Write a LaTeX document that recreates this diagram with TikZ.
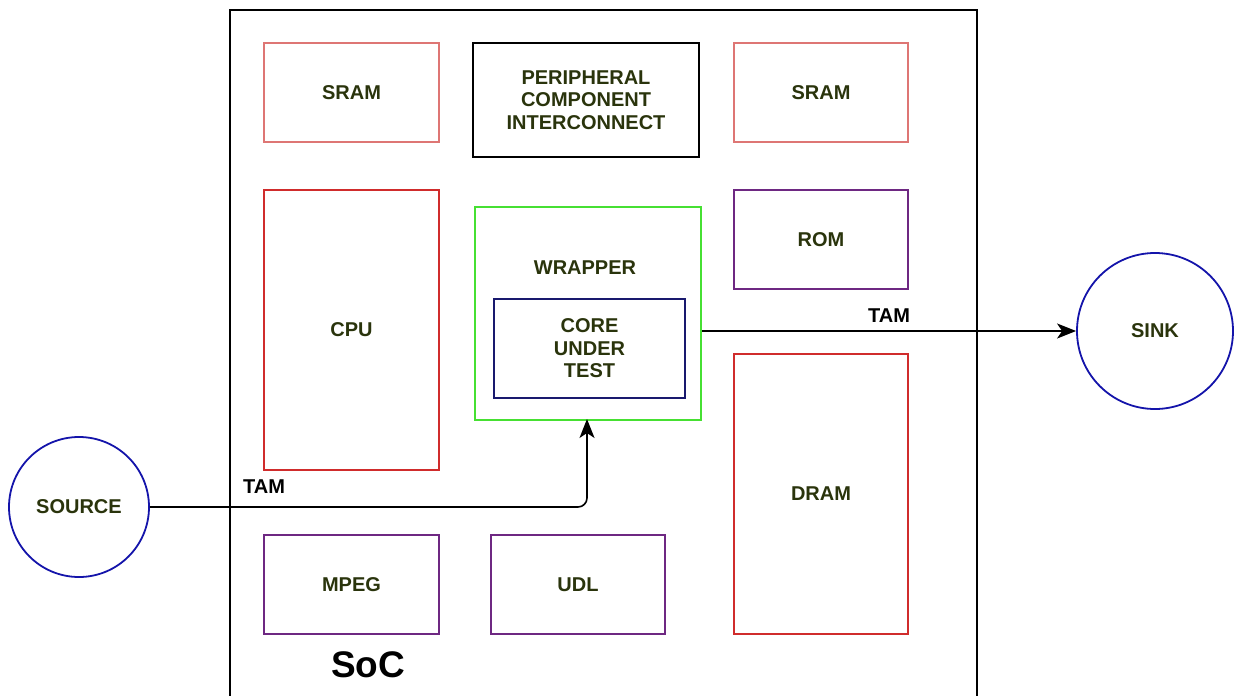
\documentclass[tikz,border=0pt]{standalone}
\usepackage{fontspec}
\setmainfont{Liberation Sans}
\usetikzlibrary{arrows.meta,positioning}
\definecolor{txt}{RGB}{42,52,12}
\definecolor{lred}{RGB}{222,118,116}
\definecolor{dred}{RGB}{208,44,44}
\definecolor{grn}{RGB}{70,224,50}
\definecolor{navy}{RGB}{25,25,110}
\definecolor{purp}{RGB}{110,40,130}
\definecolor{blu}{RGB}{20,20,170}
\begin{document}
\begin{tikzpicture}[x=1pt,y=-1pt,
  lbl/.style={font=\fontsize{20}{22.5}\selectfont\bfseries, text=txt, align=center},
  blk/.style={draw, line width=2pt, inner sep=0pt, anchor=north west},
  circ/.style={draw=blu, line width=1.8pt, circle, inner sep=0pt},
  arr/.style={draw, line width=1.6pt, -{Stealth[length=19pt,width=15pt,inset=5pt]}},
  tam/.style={font=\fontsize{20}{22}\selectfont\bfseries, text=black}]
\useasboundingbox (0,0) rectangle (1237,696);
% SoC border
\node[blk, draw=black, line width=2.2pt, minimum width=747pt, minimum height=690pt] (soc) at (229,9) {};
\node[font=\fontsize{37}{40}\selectfont\bfseries] (soclbl) at (368,665) {SoC};
% blocks
\node[blk, draw=lred, minimum width=175pt, minimum height=99pt] (sram1) at (263,42) {};
\node[lbl] at (sram1.center) {SRAM};
\node[blk, draw=black, minimum width=226pt, minimum height=114pt] (pci) at (472,42) {};
\node[lbl] at (pci.center) {PERIPHERAL\\COMPONENT\\INTERCONNECT};
\node[blk, draw=lred, minimum width=174pt, minimum height=99pt] (sram2) at (733,42) {};
\node[lbl] at (sram2.center) {SRAM};
\node[blk, draw=dred, minimum width=175pt, minimum height=280pt] (cpu) at (263,189) {};
\node[lbl] at (cpu.center) {CPU};
\node[blk, draw=grn, minimum width=226pt, minimum height=213pt] (wrap) at (474,206) {};
\node[lbl] (wraplbl) at (585,268) {WRAPPER};
\node[blk, draw=navy, minimum width=191pt, minimum height=99pt] (core) at (493,298) {};
\node[lbl] at (core.center) {CORE\\UNDER\\TEST};
\node[blk, draw=purp, minimum width=174pt, minimum height=99pt] (rom) at (733,189) {};
\node[lbl] at (rom.center) {ROM};
\node[blk, draw=dred, minimum width=174pt, minimum height=280pt] (dram) at (733,353) {};
\node[lbl] at (dram.center) {DRAM};
\node[blk, draw=purp, minimum width=175pt, minimum height=99pt] (mpeg) at (263,534) {};
\node[lbl] at (mpeg.center) {MPEG};
\node[blk, draw=purp, minimum width=174pt, minimum height=99pt] (udl) at (490,534) {};
\node[lbl] at (udl.center) {UDL};
% source and sink
\node[circ, minimum size=140pt] (src) at (79,507) {};
\node[lbl] at (src.center) {SOURCE};
\node[circ, minimum size=156pt] (sink) at (1155,331) {};
\node[lbl] at (sink.center) {SINK};
% connectors
\coordinate (wrapin) at (587,419);
\draw[arr, rounded corners=9pt] (src.east) -| (wrapin);
\node[tam] (tam1) at (264,487) {TAM};
\draw[arr] (wrap.east |- sink.center) -- (sink.west);
\node[tam] (tam2) at (889,316) {TAM};
\end{tikzpicture}
\end{document}
